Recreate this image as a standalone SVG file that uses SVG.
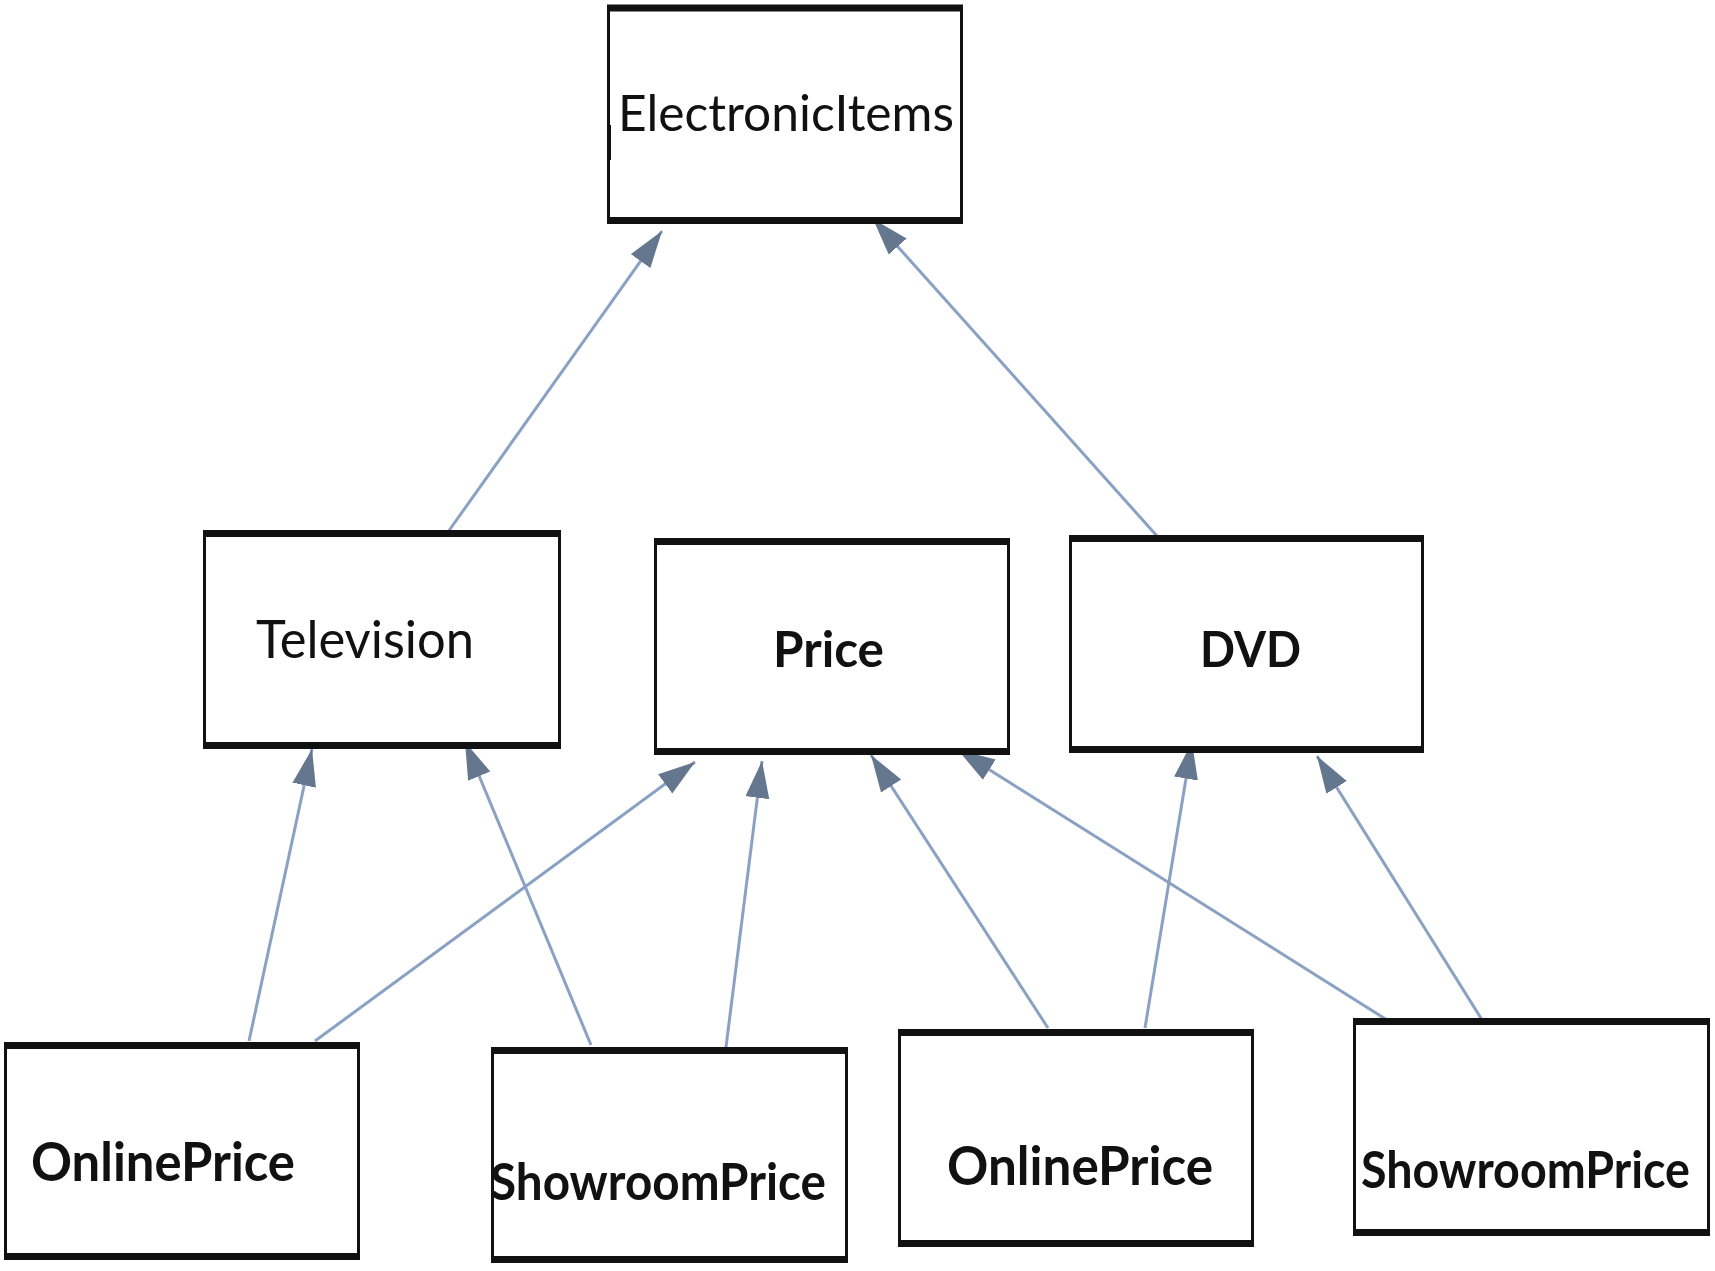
<svg xmlns="http://www.w3.org/2000/svg" width="1715" height="1271" viewBox="0 0 1715 1271">
<style>
.box{fill:#fff;stroke:#111;stroke-width:3}
.edge{fill:none;stroke:#111;stroke-width:7}
.lbl{font-family:Lato,"Liberation Sans",Arial,sans-serif;fill:#111;font-size:50px}
.b{font-weight:bold}
.conn{stroke:#8ba1c3;stroke-width:3;fill:none;marker-end:url(#ah)}
</style>
<defs>
<marker id="ah" markerUnits="userSpaceOnUse" markerWidth="42" markerHeight="26" refX="37" refY="12" orient="auto">
<path d="M0,0 L37,12 L0,24 z" fill="#65778f"/>
</marker>
</defs>
<rect width="1715" height="1271" fill="#fff"/>
<g id="connectors">
<line class="conn" x1="448" y1="532" x2="662" y2="231"/>
<line class="conn" x1="1157" y1="536" x2="873" y2="219"/>
<line class="conn" x1="249" y1="1041" x2="312" y2="749"/>
<line class="conn" x1="591" y1="1045" x2="465" y2="742"/>
<line class="conn" x1="315" y1="1041" x2="695" y2="762"/>
<line class="conn" x1="725" y1="1055" x2="762" y2="761"/>
<line class="conn" x1="1048" y1="1028" x2="871" y2="755"/>
<line class="conn" x1="1395" y1="1025" x2="958" y2="750"/>
<line class="conn" x1="1145" y1="1028" x2="1192" y2="742"/>
<line class="conn" x1="1484" y1="1023" x2="1317" y2="756"/>
</g>
<g id="ElectronicItems">
<rect class="box" x="608.5" y="7" width="353" height="215"/>
<path class="edge" d="M607 8H963M607 220.5H963"/>
<path d="M609 125V160" stroke="#111" stroke-width="4"/>
<text class="lbl" x="618" y="131" textLength="336" lengthAdjust="spacingAndGlyphs">ElectronicItems</text>
</g>
<g id="Television">
<rect class="box" x="204.5" y="532" width="355" height="215"/>
<path class="edge" d="M203 533.5H561M203 745.5H561"/>
<text class="lbl" x="256" y="658" textLength="218" lengthAdjust="spacingAndGlyphs" style="font-size:52px">Television</text>
</g>
<g id="Price">
<rect class="box" x="655.5" y="540" width="353" height="213"/>
<path class="edge" d="M654 541.5H1010M654 751.5H1010"/>
<text class="lbl b" x="773" y="667" textLength="111" lengthAdjust="spacingAndGlyphs">Price</text>
</g>
<g id="DVD">
<rect class="box" x="1070.5" y="537" width="352" height="214"/>
<path class="edge" d="M1069 538.5H1424M1069 749.5H1424"/>
<text class="lbl b" x="1200" y="667" textLength="101" lengthAdjust="spacingAndGlyphs">DVD</text>
</g>
<g id="OnlinePrice1">
<rect class="box" x="5.5" y="1044" width="353" height="214"/>
<path class="edge" d="M4 1045.5H360M4 1256.5H360"/>
<text class="lbl b" x="31" y="1181" textLength="264" lengthAdjust="spacingAndGlyphs" style="font-size:54px">OnlinePrice</text>
</g>
<g id="ShowroomPrice1">
<rect class="box" x="492.5" y="1049" width="354" height="212"/>
<path class="edge" d="M491 1050.5H848M491 1259.5H848"/>
<text class="lbl b" x="490" y="1200" textLength="336" lengthAdjust="spacingAndGlyphs" style="font-size:52px">ShowroomPrice</text>
</g>
<g id="OnlinePrice2">
<rect class="box" x="899.5" y="1031" width="353" height="214"/>
<path class="edge" d="M898 1032.5H1254M898 1243.5H1254"/>
<text class="lbl b" x="947" y="1185" textLength="266" lengthAdjust="spacingAndGlyphs" style="font-size:54px">OnlinePrice</text>
</g>
<g id="ShowroomPrice2">
<rect class="box" x="1354.5" y="1020" width="354" height="214"/>
<path class="edge" d="M1353 1021.5H1710M1353 1232.5H1710"/>
<text class="lbl b" x="1361" y="1188" textLength="329" lengthAdjust="spacingAndGlyphs" style="font-size:52px">ShowroomPrice</text>
</g>
</svg>
